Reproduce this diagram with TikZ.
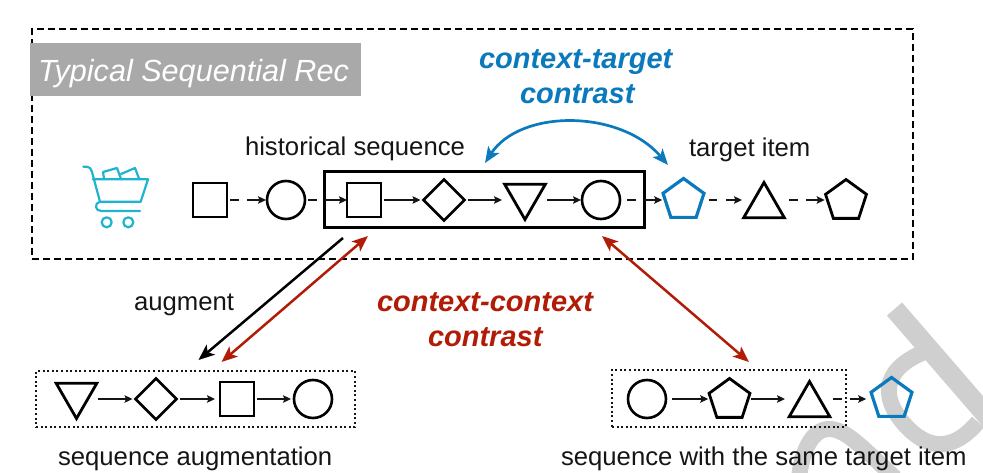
\documentclass[tikz,border=0pt]{standalone}
\usepackage{fontspec}
\setmainfont{Liberation Sans}
\usetikzlibrary{arrows.meta,shapes.geometric,calc}
\definecolor{tblue}{HTML}{0B7ABD}
\definecolor{tred}{HTML}{B01C06}
\definecolor{tcart}{HTML}{1FB4CE}
\definecolor{tgray}{HTML}{A9A9A9}
\definecolor{twm}{HTML}{CFCFCF}
\definecolor{tink}{HTML}{151515}
\tikzset{
  itemsq/.style={draw=black,line width=2.8pt,rectangle,minimum size=34pt,inner sep=0pt,outer sep=0pt},
  itemci/.style={draw=black,line width=2.6pt,circle,minimum size=38pt,inner sep=0pt,outer sep=0pt},
  itemdi/.style={draw=black,line width=2.8pt,diamond,minimum size=41pt,inner sep=0pt,outer sep=0pt},
  itemup/.style={draw=black,line width=2.8pt,regular polygon,regular polygon sides=3,minimum size=47pt,inner sep=0pt,outer sep=0pt},
  itemdn/.style={itemup,shape border rotate=180},
  itempe/.style={draw=black,line width=2.8pt,regular polygon,regular polygon sides=5,minimum size=43pt,inner sep=0pt,outer sep=0pt},
  bluepe/.style={itempe,draw=tblue,line width=3.2pt},
  solidlink/.style={draw=tink,line width=1.3pt,-{Stealth[length=8pt,width=7.5pt,inset=1.5pt]}},
  dashlink/.style={solidlink,dash pattern=on 8.5pt off 8.5pt on 60pt},
  biglink/.style={line width=2.5pt,-{Stealth[length=16pt,width=13pt,inset=4pt]}},
  bigboth/.style={line width=2.5pt,{Stealth[length=16pt,width=13pt,inset=4pt]}-{Stealth[length=16pt,width=13pt,inset=4pt]}},
  lab/.style={inner sep=0pt,outer sep=0pt,anchor=base west,text=tink,font=\fontsize{25.7pt}{30pt}\selectfont},
  contrastlab/.style={inner sep=0pt,outer sep=0pt,anchor=base west,font=\fontsize{29pt}{34pt}\selectfont\bfseries\itshape},
  dotbox/.style={draw=tink,line width=1.2pt,dash pattern=on 2pt off 2.6pt,rectangle,inner sep=0pt,outer sep=0pt},
  cartline/.style={draw=tcart,line width=2.2pt,line join=round,line cap=round},
  wmark/.style={draw=twm,line width=16pt}
}
\begin{document}
\begin{tikzpicture}[x=1pt,y=-1pt]
\useasboundingbox (0,0) rectangle (983,473);
% watermark
\begin{scope}
\clip (0,0) rectangle (983,473);
\draw[wmark,line width=20pt] (894.5,309) -- (1000,431);
\draw[wmark] (930,350) .. controls (884,366) and (878,395) .. (905,425) .. controls (925,447) and (950,455) .. (978,422);
\draw[wmark] (799,480) .. controls (801,452) and (812,429) .. (829,429) .. controls (845,429) and (860,445) .. (895,478);
\end{scope}
% outer frame
\node[draw=black,line width=2.6pt,dash pattern=on 7pt off 4pt,rectangle,minimum width=881pt,minimum height=230pt,inner sep=0pt,outer sep=0pt] (frame) at (472.5,144) {};
\node[fill=tgray,rectangle,minimum width=331pt,minimum height=53pt,inner sep=0pt,outer sep=0pt] (title) at (195.5,69.5) {};
\node[inner sep=0pt,anchor=base west,text=white,font=\fontsize{30.6pt}{34pt}\selectfont\itshape] (titletext) at (38,82) {Typical Sequential Rec};
% cart
\draw[cartline] (83.3,166.7) -- (87,166.7) .. controls (90,166.7) and (91,169) .. (92,172) -- (100,201.7) -- (140.7,201.7) -- (148,179.3) -- (92.7,179.3);
\draw[cartline] (100,201.7) .. controls (94,203) and (95,211) .. (101,211) -- (140,211);
\draw[cartline] (104,178.5) -- (103,172) -- (117,168) -- (121,179);
\draw[cartline] (121,174) -- (135,168) -- (139,178.5);
\draw[cartline] (106.7,222.3) circle (5);
\draw[cartline] (128.3,222.3) circle (5);
% main sequence
\node[draw=black,line width=3pt,rectangle,minimum width=320pt,minimum height=56pt,inner sep=0pt,outer sep=0pt] (hist) at (484,200) {};
\node[itemsq] (a1) at (210,200) {};
\node[itemci] (a2) at (286,200) {};
\node[itemsq] (a3) at (364,200) {};
\node[itemdi] (a4) at (444,200) {};
\node[itemdn] (a5) at (525,196) {};
\coordinate (a5w) at (503,200);
\coordinate (a5e) at (547,200);
\node[itemci] (a6) at (601,200) {};
\node[bluepe] (a7) at (683.5,200) {};
\node[itemup] (a8) at (764,206) {};
\coordinate (a8w) at (742,200);
\coordinate (a8e) at (786,200);
\node[itempe] (a9) at (846,201) {};
\draw[dashlink,shorten <=3pt,shorten >=1pt] (a1.east) -- (a2.west);
\draw[dashlink,shorten <=3pt,shorten >=0pt] (a2.east) -- (a3.west);
\draw[solidlink,shorten <=3pt,shorten >=3pt] (a3.east) -- (a4.west);
\draw[solidlink,shorten <=3pt,shorten >=1pt] (a4.east) -- (a5w);
\draw[solidlink,shorten <=0pt,shorten >=1pt] (a5e) -- (a6.west);
\draw[dashlink,shorten <=7pt,shorten >=3pt] (a6.east) -- (a7.west);
\draw[dashlink,shorten <=7pt,shorten >=0pt] (a7.east) -- (a8w);
\draw[dashlink,shorten <=3pt,shorten >=3pt] (a8e) -- (a9.west |- a8e);
% labels top
\node[lab] (lhist) at (245,156) {historical sequence};
\node[lab] (ltarget) at (689,157) {target item};
\node[contrastlab,text=tblue] (ct1) at (479,69) {context-target};
\node[contrastlab,text=tblue] (ct2) at (520,104) {contrast};
% blue arc
\coordinate (arcl) at ([shift={(161,-9)}]hist.north west);
\coordinate (arcr) at ([shift={(24,-7)}]hist.north east);
\draw[bigboth,draw=tblue,line width=2.7pt] (arcl) .. controls (520,109) and (620,109) .. (arcr);
% lower-left
\node[dotbox,minimum width=319pt,minimum height=56pt] (boxl) at (195.5,399) {};
\node[itemdn] (b1) at (76.5,395) {};
\coordinate (b1e) at (98,399);
\node[itemdi] (b2) at (156,399) {};
\node[itemsq] (b3) at (237,399) {};
\node[itemci] (b4) at (313,399) {};
\draw[solidlink,shorten <=0pt,shorten >=3pt] (b1e) -- (b2.west);
\draw[solidlink,shorten <=3pt,shorten >=5pt] (b2.east) -- (b3.west);
\draw[solidlink,shorten <=3pt,shorten >=3pt] (b3.east) -- (b4.west);
\node[lab] (lseqaug) at (58,465) {sequence augmentation};
% lower-right
\node[dotbox,minimum width=234pt,minimum height=57pt] (boxr) at (729,398.5) {};
\node[itemci] (c1) at (647,399) {};
\node[itempe] (c2) at (729.5,400) {};
\node[itemup] (c3) at (809.5,405) {};
\coordinate (c3w) at (787,399);
\coordinate (c3e) at (832,399);
\node[bluepe] (c4) at (891.5,399) {};
\draw[solidlink,shorten <=6pt,shorten >=3pt] (c1.east) -- (c2.west |- c1.east);
\draw[solidlink,shorten <=3pt,shorten >=2pt] (c2.east |- c3w) -- (c3w);
\draw[dashlink,shorten <=1pt,shorten >=7pt] (c3e) -- (c4.west);
\node[lab] (lsame) at (561,465) {sequence with the same target item};
% long arrows
\coordinate (augS) at ([shift={(19,10)}]hist.south west);
\coordinate (augE) at ([shift={(3,-11)}]boxl.north);
\coordinate (redS) at ([shift={(44,8)}]hist.south west);
\coordinate (redE) at ([shift={(26,-9)}]boxl.north);
\coordinate (redRS) at ([shift={(-42,8)}]hist.south east);
\coordinate (redRE) at ([shift={(20,-8)}]boxr.north);
\draw[biglink,draw=black] (augS) -- (augE);
\draw[bigboth,draw=tred] (redS) -- (redE);
\draw[bigboth,draw=tred] (redRS) -- (redRE);
\node[lab] (laug) at (134,310) {augment};
\node[contrastlab,text=tred] (cc1) at (377,312) {context-context};
\node[contrastlab,text=tred] (cc2) at (428,346) {contrast};
\end{tikzpicture}
\end{document}
